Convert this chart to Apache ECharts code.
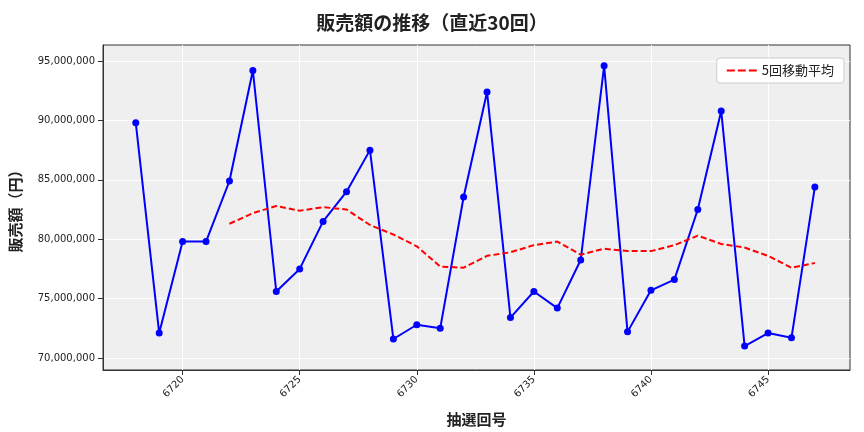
<!DOCTYPE html><html><head><meta charset="utf-8"><script src="https://cdn.jsdelivr.net/npm/echarts@6/dist/echarts.min.js"></script></head><body style="margin:0"><div id="c" style="width:864px;height:432px"></div><script>
const draws=[6718,6719,6720,6721,6722,6723,6724,6725,6726,6727,6728,6729,6730,6731,6732,6733,6734,6735,6736,6737,6738,6739,6740,6741,6742,6743,6744,6745,6746,6747];
const sales=[89.8,72.1,79.8,79.8,84.9,94.2,75.6,77.5,81.5,84.0,87.5,71.6,72.8,72.5,83.55,92.4,73.4,75.6,74.2,78.25,94.6,72.2,75.7,76.6,82.5,90.8,71.0,72.1,71.7,84.4];
const ma5=[null,null,null,null,81.3,82.2,82.8,82.4,82.7,82.5,81.2,80.4,79.4,77.7,77.6,78.6,78.9,79.5,79.8,78.7,79.2,79.0,79.0,79.5,80.3,79.6,79.3,78.6,77.6,78.0];
const yTicks=[70,75,80,85,90,95].map(v=>v*1e6);
const xTicks=[6720,6725,6730,6735,6740,6745];
const F='"Noto Sans CJK JP"';
const c=echarts.init(document.getElementById('c'));
c.setOption({animation:false,textStyle:{fontFamily:F},
title:{text:'販売額の推移（直近30回）',left:'center',top:8,textStyle:{fontSize:19,fontWeight:'bold',color:'#222',fontFamily:F}},
legend:{right:20,top:58,itemWidth:30,itemHeight:2,borderColor:'#ccc',borderWidth:1,borderRadius:3,padding:[6,10],backgroundColor:'#fff',textStyle:{fontSize:13,color:'#222'},data:[{name:'5回移動平均',icon:'path://M0,0h8v2h-8zM11,0h8v2h-8zM22,0h8v2h-8z'}]},
grid:{left:100,right:14,top:45,bottom:62,backgroundColor:'#efefef',show:true,borderWidth:1,borderColor:'#333'},
xAxis:{type:'value',min:6716.6,max:6748.5,name:'抽選回号',nameLocation:'middle',nameGap:42,nameTextStyle:{fontSize:15,color:'#222',fontWeight:'bold'},
axisLine:{show:true,lineStyle:{color:'#333'}},axisTick:{show:true,customValues:xTicks,lineStyle:{color:'#333'}},
axisLabel:{customValues:xTicks,rotate:45,fontSize:10,color:'#222',fontFamily:'DejaVu Sans',formatter:v=>String(v)},splitLine:{show:true,customValues:xTicks,lineStyle:{color:'#fff'}}},
yAxis:{type:'value',min:68.99e6,max:96.35e6,name:'販売額（円）',nameLocation:'middle',nameGap:80,nameTextStyle:{fontSize:15,color:'#222',fontWeight:'bold'},
axisLine:{show:true,lineStyle:{color:'#333'}},axisTick:{show:true,customValues:yTicks,lineStyle:{color:'#333'}},
axisLabel:{customValues:yTicks,fontSize:10,color:'#222',fontFamily:'DejaVu Sans',formatter:v=>Math.round(v).toLocaleString('en-US')},splitLine:{show:true,customValues:yTicks,lineStyle:{color:'#fff'}}},
series:[{name:'販売額',type:'line',data:draws.map((d,i)=>[d,sales[i]*1e6]),symbol:'circle',symbolSize:7,itemStyle:{color:'#0000ff'},lineStyle:{color:'#0000ff',width:2}},
{name:'5回移動平均',type:'line',data:draws.map((d,i)=>[d,ma5[i]==null?null:ma5[i]*1e6]),symbol:'none',itemStyle:{color:'#ff0000'},lineStyle:{color:'#ff0000',width:2,type:[6,3]}}]});
</script></body></html>
